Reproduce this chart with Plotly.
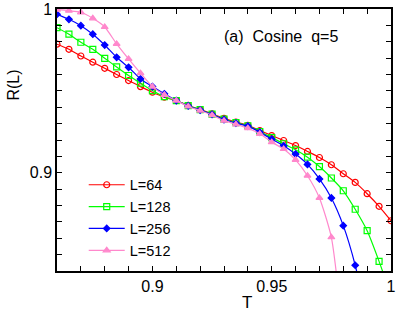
import plotly.graph_objects as go

T = [0.860, 0.865, 0.870, 0.875, 0.880, 0.885, 0.890, 0.895, 0.900, 0.905,
     0.910, 0.915, 0.920, 0.925, 0.930, 0.935, 0.940, 0.945, 0.950, 0.955,
     0.960, 0.965, 0.970, 0.975, 0.980, 0.985, 0.990, 0.995, 1.000]

R_64 = [0.9785, 0.9754, 0.9713, 0.9675, 0.9638, 0.9600, 0.9563, 0.9526, 0.9492, 0.9462,
        0.9441, 0.9411, 0.9386, 0.9360, 0.9332, 0.9310, 0.9290, 0.9258, 0.9227, 0.9197,
        0.9166, 0.9130, 0.9093, 0.9049, 0.8994, 0.8941, 0.8872, 0.8795, 0.8707]
R_128 = [0.9886, 0.9846, 0.9797, 0.9754, 0.9699, 0.9646, 0.9594, 0.9547, 0.9502, 0.9465,
         0.9441, 0.9410, 0.9385, 0.9358, 0.9328, 0.9306, 0.9287, 0.9252, 0.9215, 0.9177,
         0.9140, 0.9095, 0.9038, 0.8968, 0.8890, 0.8777, 0.8646, 0.8459, 0.8250]
R_256 = [0.9968, 0.9937, 0.9898, 0.9846, 0.9780, 0.9705, 0.9644, 0.9573, 0.9526, 0.9482,
         0.9441, 0.9408, 0.9383, 0.9356, 0.9325, 0.9303, 0.9285, 0.9248, 0.9205, 0.9165,
         0.9114, 0.9051, 0.8962, 0.8846, 0.8677, 0.8435, 0.8100]
R_512 = [0.9996, 0.9990, 0.9980, 0.9943, 0.9890, 0.9787, 0.9695, 0.9608, 0.9526, 0.9476,
         0.9441, 0.9405, 0.9380, 0.9352, 0.9318, 0.9296, 0.9272, 0.9238, 0.9187, 0.9145,
         0.9079, 0.8982, 0.8846, 0.8606, 0.8000]

series = [
    ("L=64", R_64, "#ff0000", "circle-open", 6),
    ("L=128", R_128, "#00ff00", "square-open", 6),
    ("L=256", R_256, "#0000ff", "diamond", 5),
    ("L=512", R_512, "#ff88cc", "triangle-up", 6),
]

x_tickvals = [0.9, 0.95, 1.0]
x_ticktext = ["0.9", "0.95", "1"]
y_tickvals = [0.9, 1.0]
y_ticktext = ["0.9", "1"]

FONT = "Liberation Sans, Arial, Helvetica, sans-serif"

fig = go.Figure()
for name, vals, color, sym, msize in series:
    fig.add_trace(go.Scatter(
        x=T[:len(vals)], y=vals, name=name, mode="lines+markers",
        line=dict(color=color, width=1.2, shape="spline", smoothing=0.6),
        marker=dict(symbol=sym, size=msize, color=color, line=dict(color=color, width=1.2)),
    ))

axis_common = dict(
    showline=True, linecolor="black", linewidth=1.5, mirror="ticks",
    ticks="inside", ticklen=5, tickwidth=1, tickcolor="black",
    showgrid=False, zeroline=False, automargin=False,
    tickfont=dict(family=FONT, size=16, color="black"),
    minor=dict(dtick=0.01, ticks="inside", ticklen=5, tickwidth=1, tickcolor="black", showgrid=False),
)

fig.update_xaxes(range=[0.86, 1.0], tickvals=x_tickvals, ticktext=x_ticktext,
                 tick0=0.86, **axis_common)
fig.update_yaxes(range=[0.84, 1.0], tickvals=y_tickvals, ticktext=y_ticktext,
                 **axis_common)

fig.update_layout(
    width=399, height=317,
    margin=dict(l=57, r=8, t=9, b=46, pad=0),
    paper_bgcolor="white", plot_bgcolor="white",
    font=dict(family=FONT, size=16, color="black"),
    showlegend=True,
    legend=dict(x=0.08, y=0.39, xanchor="left", yanchor="top",
                bgcolor="rgba(0,0,0,0)", font=dict(family=FONT, size=14.5),
                itemwidth=36, tracegroupgap=0),
    annotations=[
        dict(text="(a)\u00a0\u00a0Cosine\u00a0\u00a0q=5", xref="paper", yref="paper",
             x=0.495, y=0.895, xanchor="left", yanchor="middle", showarrow=False,
             font=dict(family=FONT, size=16)),
        dict(text="R(L)", xref="paper", yref="paper", x=-0.13, y=0.71,
             xanchor="center", yanchor="middle", textangle=-90, showarrow=False,
             font=dict(family=FONT, size=16)),
        dict(text="T", xref="paper", yref="paper", x=0.568, y=-0.122,
             xanchor="center", yanchor="middle", showarrow=False,
             font=dict(family=FONT, size=17)),
    ],
)

fig.write_html("out.html", config={"displayModeBar": False},
               post_script="document.body.style.margin='0';")
